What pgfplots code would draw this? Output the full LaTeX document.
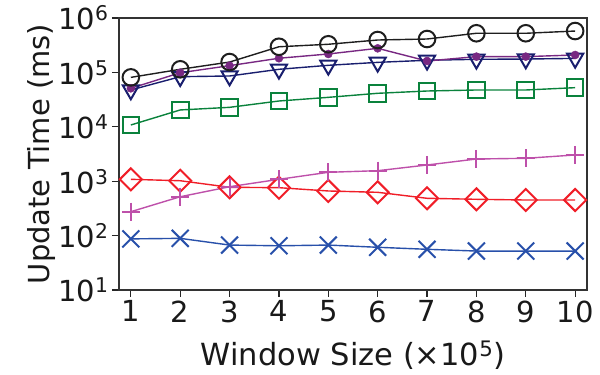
\documentclass[border=0pt]{standalone}
\usepackage{pgfplots}
\pgfplotsset{compat=1.18}
\usepackage{fontspec}
\setmainfont{DejaVu Sans}

\definecolor{cBlack}{RGB}{30,30,30}
\definecolor{cPurple}{RGB}{120,40,130}
\definecolor{cNavy}{RGB}{25,30,110}
\definecolor{cGreen}{RGB}{10,130,60}
\definecolor{cPink}{RGB}{190,80,170}
\definecolor{cRed}{RGB}{240,30,40}
\definecolor{cBlue}{RGB}{40,80,170}

\begin{document}
\begin{tikzpicture}
\begin{axis}[
  name=ax,
  scale only axis,
  width=468pt, height=272pt,
  ymode=log,
  xmin=0.76, xmax=10.24,
  ymin=10, ymax=1e6,
  xtick={1,...,10},
  ytick={10,100,1000,10000,100000,1000000},
  yticklabels={10\textsuperscript{1},10\textsuperscript{2},10\textsuperscript{3},10\textsuperscript{4},10\textsuperscript{5},10\textsuperscript{6}},
  minor tick num=0,
  yminorticks=false,
  tick align=outside,
  tick pos=left,
  major tick length=7pt,
  every tick/.style={black!85, line width=1.2pt},
  axis line style={black!80, line width=1.3pt},
  /pgf/number format/assume math mode=true,
  tick label style={font=\fontsize{29}{34}\selectfont, text=black!90},
  label style={font=\fontsize{29}{34}\selectfont, text=black!90},
  xlabel={Window Size (×10\textsuperscript{5})},
  ylabel={Update Time (ms)},
  xlabel style={yshift=-12pt, font=\fontsize{30.5}{35}\selectfont},
  ylabel style={yshift=-4pt},
  clip=false,
  every axis plot/.append style={line width=1.4pt},
]
% blue x
\addplot[cBlue, mark=x, mark size=12pt, mark options={line width=2pt}] coordinates {
(1,87) (2,89) (3,67) (4,65) (5,67) (6,61) (7,56) (8,52) (9,52) (10,52)};
% red diamonds
\addplot[cRed, mark=square, mark size=7.8pt, mark options={rotate=45, line width=2pt, fill=none}] coordinates {
(1,1083) (2,1020) (3,773) (4,760) (5,661) (6,625) (7,485) (8,465) (9,451) (10,451)};
% pink plus
\addplot[cPink, mark=+, mark size=9pt, mark options={line width=2pt}] coordinates {
(1,275) (2,518) (3,792) (4,1083) (5,1458) (6,1560) (7,1986) (8,2560) (9,2635) (10,3035)};
% green squares
\addplot[cGreen, mark=square, mark size=8.3pt, mark options={line width=2pt, fill=none}] coordinates {
(1,10800) (2,20400) (3,22800) (4,29800) (5,34800) (6,41300) (7,45500) (8,47500) (9,47500) (10,52400)};
% navy down triangles
\addplot[cNavy, mark=triangle, mark size=9.3pt, mark options={rotate=180, line width=2pt, fill=none}] coordinates {
(1,47500) (2,83400) (3,85900) (4,114000) (5,135000) (6,153000) (7,167000) (8,174000) (9,176000) (10,181000)};
% purple dots
\addplot[cPurple, mark=*, mark size=4pt, mark options={fill=cPurple, line width=0.5pt}] coordinates {
(1,51000) (2,98600) (3,133000) (4,182000) (5,218000) (6,277000) (7,162000) (8,195000) (9,195000) (10,209000)};
% black circles
\addplot[cBlack, mark=o, mark size=8.3pt, mark options={line width=2pt, fill=none}] coordinates {
(1,81000) (2,114000) (3,155000) (4,296000) (5,329000) (6,394000) (7,411000) (8,524000) (9,524000) (10,576000)};
\end{axis}
\pgfresetboundingbox
\path ([shift={(-119pt,-85pt)}]ax.south west) rectangle ([shift={(13pt,18pt)}]ax.north east);
\end{tikzpicture}
\end{document}
